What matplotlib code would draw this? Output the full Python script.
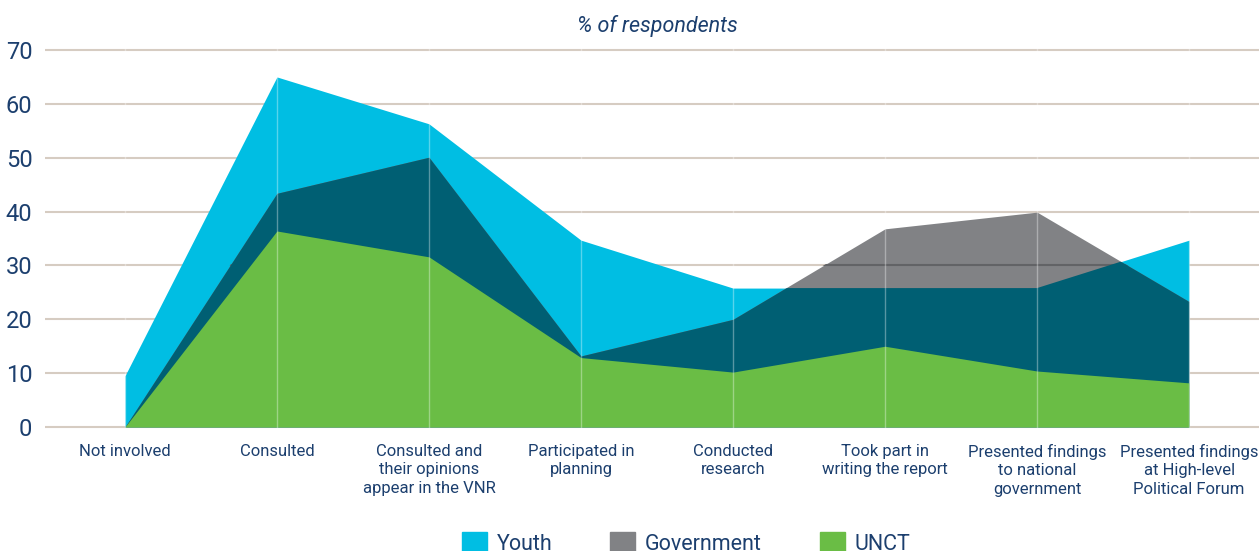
import numpy as np
import matplotlib.pyplot as plt
from matplotlib.patches import Patch

plt.rcParams['font.family'] = ['Roboto', 'DejaVu Sans']

# data (% of respondents)
categories = ["Not involved", "Consulted", "Consulted and\ntheir opinions\nappear in the VNR",
              "Participated in\nplanning", "Conducted\nresearch", "Took part in\nwriting the report",
              "Presented findings\nto national\ngovernment", "Presented findings\nat High-level\nPolitical Forum"]
youth = [9.5, 65, 56.3, 34.7, 25.8, 25.8, 25.8, 34.7]
government = [0, 43.4, 50.1, 13.2, 20, 36.8, 39.9, 23.3]
unct = [0, 36.4, 31.6, 12.9, 10.2, 15, 10.4, 8.2]

c_youth = '#00bee3'
c_gov = '#818285'
c_both = '#005f73'
c_unct = '#6abd45'
c_text = '#1c3f6e'
c_grid = '#d6ccc2'

x = np.arange(len(categories))

fig = plt.figure(figsize=(12.59, 5.51), dpi=100)
ax = fig.add_axes([0.0357, 0.2201, 0.9643, 0.694])

yf = ax.fill_between(x, 0, youth, color=c_youth, lw=0, zorder=1)
ax.fill_between(x, 0, government, color=c_gov, lw=0, zorder=2)
gov_path = ax.fill_between(x, 0, government, color='none', lw=0).get_paths()[0]
# grid line shows through the grey-only area
for yv in [30]:
    ln = ax.axhline(yv, color='#626366', lw=1.5, zorder=2.5)
    ln.set_clip_path(gov_path, ax.transData)
# where youth and government overlap -> dark teal
both = ax.fill_between(x, 0, government, color=c_both, lw=0, zorder=3)
both.set_clip_path(yf.get_paths()[0], ax.transData)
ax.fill_between(x, 0, unct, color=c_unct, lw=0, zorder=4)

for xv in x:
    ax.axvline(xv, color='white', lw=1, alpha=0.35, zorder=5)

ax.set_xlim(-0.526, 7.46)
ax.set_ylim(-0.5, 70.5)
ax.set_yticks(range(0, 71, 10))
ax.set_xticks(x)
ax.set_xticklabels(categories, fontsize=12, color=c_text, linespacing=1.3)
ax.tick_params(axis='x', length=0, pad=10)
ax.tick_params(axis='y', length=0, pad=9, labelsize=17, labelcolor=c_text)
ax.grid(axis='y', color=c_grid, lw=1.5, zorder=0)
ax.set_axisbelow(True)
for s in ax.spines.values():
    s.set_visible(False)

fig.text(0.522, 0.953, "% of respondents", ha='center', va='center',
         fontsize=15.5, style='italic', color=c_text)

handles = [Patch(color=c_youth, label='Youth'),
           Patch(color=c_gov, label='Government'),
           Patch(color=c_unct, label='UNCT')]
fig.legend(handles=handles, loc='center', bbox_to_anchor=(0.545, 0.014), ncol=3,
           frameon=False, fontsize=15.5, labelcolor=c_text, handlelength=1.15,
           handleheight=1.15, handletextpad=0.45, columnspacing=2.7)

fig.savefig('out.png', dpi=100)
